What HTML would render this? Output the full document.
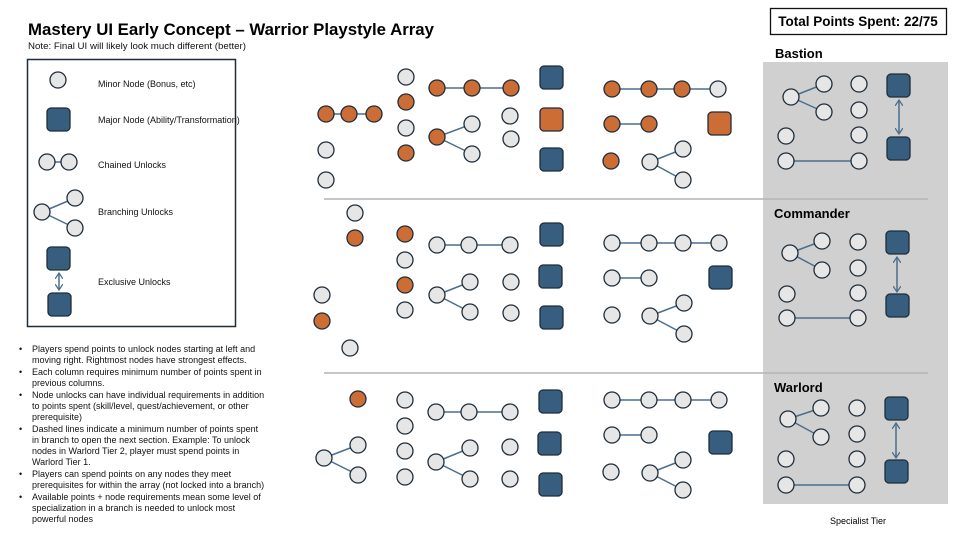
<!DOCTYPE html>
<html><head><meta charset="utf-8"><style>
html,body{margin:0;padding:0;background:#fff;}
svg{display:block;font-family:"Liberation Sans",sans-serif;}
.l{fill:#e6e6e6;stroke:#1f2d3a;stroke-width:1.3}
.o{fill:#cc6d35;stroke:#1f2d3a;stroke-width:1.3}
.b{fill:#375e7e;stroke:#1f2d3a;stroke-width:1.3}
.q{fill:#cc6d35;stroke:#1f2d3a;stroke-width:1.3}
.c{stroke:#4a6e8e;stroke-width:1.5;fill:none}
.t{font-size:9px;fill:#111}
</style></head><body>
<svg width="960" height="540" viewBox="0 0 960 540" xmlns="http://www.w3.org/2000/svg">
<defs>
<marker id="ah" markerWidth="8" markerHeight="8" refX="6" refY="4" orient="auto-start-reverse" markerUnits="userSpaceOnUse">
<path d="M0,0 L6,4 L0,8" fill="none" stroke="#4a6e8e" stroke-width="1.3"/>
</marker>
</defs>
<!-- Title -->
<text x="28" y="35" font-size="17" font-weight="bold" textLength="406" lengthAdjust="spacingAndGlyphs">Mastery UI Early Concept – Warrior Playstyle Array</text>
<text x="28" y="49" class="t" textLength="218" lengthAdjust="spacingAndGlyphs">Note: Final UI will likely look much different (better)</text>
<rect x="770.5" y="8.5" width="176" height="26" fill="#fff" stroke="#111" stroke-width="1.3"/>
<text x="858" y="26" font-size="13.5" font-weight="bold" text-anchor="middle">Total Points Spent: 22/75</text>

<!-- Legend -->
<rect x="27.5" y="59.5" width="208" height="267" fill="#fff" stroke="#1f2d3a" stroke-width="1.5"/>
<circle class="l" cx="58" cy="80" r="8"/>
<text x="98" y="87" class="t">Minor Node (Bonus, etc)</text>
<rect class="b" x="47" y="108" width="23" height="23" rx="4"/>
<text x="98" y="123" class="t">Major Node (Ability/Transformation)</text>
<line class="c" x1="47" y1="162" x2="69" y2="162"/>
<circle class="l" cx="47" cy="162" r="8"/><circle class="l" cx="69" cy="162" r="8"/>
<text x="98" y="168" class="t">Chained Unlocks</text>
<line class="c" x1="42" y1="212" x2="75" y2="198"/><line class="c" x1="42" y1="212" x2="75" y2="228"/>
<circle class="l" cx="42" cy="212" r="8"/><circle class="l" cx="75" cy="198" r="8"/><circle class="l" cx="75" cy="228" r="8"/>
<text x="98" y="215" class="t">Branching Unlocks</text>
<rect class="b" x="47" y="247" width="23" height="23" rx="4"/>
<rect class="b" x="48" y="293" width="23" height="23" rx="4"/>
<line class="c" x1="59" y1="273" x2="59" y2="290" marker-start="url(#ah)" marker-end="url(#ah)"/>
<text x="98" y="285" class="t">Exclusive Unlocks</text>

<!-- Bullets -->
<g class="t">
<text x="19" y="352">•</text><text x="32" y="352">Players spend points to unlock nodes starting at left and</text>
<text x="32" y="363">moving right. Rightmost nodes have strongest effects.</text>
<text x="19" y="375">•</text><text x="32" y="375">Each column requires minimum number of points spent in</text>
<text x="32" y="386">previous columns.</text>
<text x="19" y="398">•</text><text x="32" y="398">Node unlocks can have individual requirements in addition</text>
<text x="32" y="409">to points spent (skill/level, quest/achievement, or other</text>
<text x="32" y="420">prerequisite)</text>
<text x="19" y="432">•</text><text x="32" y="432">Dashed lines indicate a minimum number of points spent</text>
<text x="32" y="443">in branch to open the next section. Example: To unlock</text>
<text x="32" y="454">nodes in Warlord Tier 2, player must spend points in</text>
<text x="32" y="465">Warlord Tier 1.</text>
<text x="19" y="477">•</text><text x="32" y="477">Players can spend points on any nodes they meet</text>
<text x="32" y="488">prerequisites for within the array (not locked into a branch)</text>
<text x="19" y="500">•</text><text x="32" y="500">Available points + node requirements mean some level of</text>
<text x="32" y="511">specialization in a branch is needed to unlock most</text>
<text x="32" y="522">powerful nodes</text>
</g>

<!-- Right panel -->
<rect x="763" y="62" width="185" height="442" fill="#d0d0d0"/>
<line x1="324" y1="199" x2="928" y2="199" stroke="#b4b4b4" stroke-width="1.5"/>
<line x1="324" y1="373" x2="928" y2="373" stroke="#b4b4b4" stroke-width="1.5"/>
<text x="775" y="58" font-size="13" font-weight="bold">Bastion</text>
<text x="774" y="218" font-size="13" font-weight="bold">Commander</text>
<text x="774" y="392" font-size="13" font-weight="bold">Warlord</text>
<text x="858" y="524" font-size="9" text-anchor="middle">Specialist Tier</text>

<!-- Connectors -->
<g class="c">
<line x1="326" y1="114" x2="374" y2="114"/>
<line x1="437" y1="88" x2="511" y2="88"/>
<line x1="437" y1="137" x2="472" y2="124"/><line x1="437" y1="137" x2="472" y2="154"/>
<line x1="612" y1="89" x2="718" y2="89"/>
<line x1="612" y1="124" x2="649" y2="124"/>
<line x1="650" y1="162" x2="683" y2="149"/><line x1="650" y1="162" x2="683" y2="180"/>

<line x1="437" y1="245" x2="510" y2="245"/>
<line x1="437" y1="295" x2="470" y2="282"/><line x1="437" y1="295" x2="470" y2="312"/>
<line x1="612" y1="243" x2="719" y2="243"/>
<line x1="612" y1="278" x2="649" y2="278"/>
<line x1="650" y1="316" x2="684" y2="303"/><line x1="650" y1="316" x2="684" y2="334"/>

<line x1="324" y1="458" x2="358" y2="445"/><line x1="324" y1="458" x2="358" y2="475"/>
<line x1="436" y1="412" x2="510" y2="412"/>
<line x1="436" y1="462" x2="470" y2="448"/><line x1="436" y1="462" x2="470" y2="479"/>
<line x1="612" y1="400" x2="719" y2="400"/>
<line x1="612" y1="435" x2="649" y2="435"/>
<line x1="650" y1="473" x2="683" y2="460"/><line x1="650" y1="473" x2="683" y2="490"/>

<line x1="791" y1="97" x2="824" y2="84"/><line x1="791" y1="97" x2="824" y2="112"/>
<line x1="786" y1="161" x2="859" y2="161"/>
<line x1="790" y1="253" x2="822" y2="241"/><line x1="790" y1="253" x2="822" y2="270"/>
<line x1="787" y1="318" x2="858" y2="318"/>
<line x1="788" y1="419" x2="821" y2="408"/><line x1="788" y1="419" x2="821" y2="437"/>
<line x1="786" y1="485" x2="857" y2="485"/>
<line x1="899" y1="100" x2="899" y2="134" marker-start="url(#ah)" marker-end="url(#ah)"/>
<line x1="897" y1="257" x2="897" y2="292" marker-start="url(#ah)" marker-end="url(#ah)"/>
<line x1="896" y1="423" x2="896" y2="458" marker-start="url(#ah)" marker-end="url(#ah)"/>
</g>

<!-- Top section nodes -->
<circle class="o" cx="326" cy="114" r="8"/><circle class="o" cx="349" cy="114" r="8"/><circle class="o" cx="374" cy="114" r="8"/>
<circle class="l" cx="326" cy="150" r="8"/><circle class="l" cx="326" cy="180" r="8"/>
<circle class="l" cx="406" cy="77" r="8"/><circle class="o" cx="406" cy="102" r="8"/><circle class="l" cx="406" cy="128" r="8"/><circle class="o" cx="406" cy="153" r="8"/>
<circle class="o" cx="437" cy="88" r="8"/><circle class="o" cx="472" cy="88" r="8"/><circle class="o" cx="511" cy="88" r="8"/>
<circle class="o" cx="437" cy="137" r="8"/><circle class="l" cx="472" cy="124" r="8"/><circle class="l" cx="472" cy="154" r="8"/>
<circle class="l" cx="510" cy="116" r="8"/><circle class="l" cx="511" cy="139" r="8"/>
<rect class="b" x="540" y="66" width="23" height="23" rx="4"/>
<rect class="q" x="540" y="108" width="23" height="23" rx="4"/>
<rect class="b" x="540" y="148" width="23" height="23" rx="4"/>
<circle class="o" cx="612" cy="89" r="8"/><circle class="o" cx="649" cy="89" r="8"/><circle class="o" cx="682" cy="89" r="8"/><circle class="l" cx="718" cy="89" r="8"/>
<circle class="o" cx="612" cy="124" r="8"/><circle class="o" cx="649" cy="124" r="8"/>
<rect class="q" x="708" y="112" width="23" height="23" rx="4"/>
<circle class="o" cx="611" cy="161" r="8"/>
<circle class="l" cx="650" cy="162" r="8"/><circle class="l" cx="683" cy="149" r="8"/><circle class="l" cx="683" cy="180" r="8"/>

<!-- Middle section nodes -->
<circle class="l" cx="355" cy="213" r="8"/><circle class="o" cx="355" cy="238" r="8"/>
<circle class="l" cx="322" cy="295" r="8"/><circle class="o" cx="322" cy="321" r="8"/><circle class="l" cx="350" cy="348" r="8"/>
<circle class="o" cx="405" cy="234" r="8"/><circle class="l" cx="405" cy="260" r="8"/><circle class="o" cx="405" cy="285" r="8"/><circle class="l" cx="405" cy="310" r="8"/>
<circle class="l" cx="437" cy="245" r="8"/><circle class="l" cx="469" cy="245" r="8"/><circle class="l" cx="510" cy="245" r="8"/>
<circle class="l" cx="437" cy="295" r="8"/><circle class="l" cx="470" cy="282" r="8"/><circle class="l" cx="470" cy="312" r="8"/>
<circle class="l" cx="511" cy="282" r="8"/><circle class="l" cx="511" cy="313" r="8"/>
<rect class="b" x="540" y="223" width="23" height="23" rx="4"/>
<rect class="b" x="539" y="265" width="23" height="23" rx="4"/>
<rect class="b" x="540" y="306" width="23" height="23" rx="4"/>
<circle class="l" cx="612" cy="243" r="8"/><circle class="l" cx="649" cy="243" r="8"/><circle class="l" cx="683" cy="243" r="8"/><circle class="l" cx="719" cy="243" r="8"/>
<circle class="l" cx="612" cy="278" r="8"/><circle class="l" cx="649" cy="278" r="8"/>
<rect class="b" x="709" y="266" width="23" height="23" rx="4"/>
<circle class="l" cx="612" cy="315" r="8"/>
<circle class="l" cx="650" cy="316" r="8"/><circle class="l" cx="684" cy="303" r="8"/><circle class="l" cx="684" cy="334" r="8"/>

<!-- Bottom section nodes -->
<circle class="o" cx="358" cy="399" r="8"/>
<circle class="l" cx="324" cy="458" r="8"/><circle class="l" cx="358" cy="445" r="8"/><circle class="l" cx="358" cy="475" r="8"/>
<circle class="l" cx="405" cy="400" r="8"/><circle class="l" cx="405" cy="426" r="8"/><circle class="l" cx="405" cy="451" r="8"/><circle class="l" cx="405" cy="477" r="8"/>
<circle class="l" cx="436" cy="412" r="8"/><circle class="l" cx="469" cy="412" r="8"/><circle class="l" cx="510" cy="412" r="8"/>
<circle class="l" cx="436" cy="462" r="8"/><circle class="l" cx="470" cy="448" r="8"/><circle class="l" cx="470" cy="479" r="8"/>
<circle class="l" cx="510" cy="447" r="8"/><circle class="l" cx="510" cy="479" r="8"/>
<rect class="b" x="539" y="390" width="23" height="23" rx="4"/>
<rect class="b" x="538" y="432" width="23" height="23" rx="4"/>
<rect class="b" x="539" y="473" width="23" height="23" rx="4"/>
<circle class="l" cx="612" cy="400" r="8"/><circle class="l" cx="649" cy="400" r="8"/><circle class="l" cx="683" cy="400" r="8"/><circle class="l" cx="719" cy="400" r="8"/>
<circle class="l" cx="612" cy="435" r="8"/><circle class="l" cx="649" cy="435" r="8"/>
<rect class="b" x="709" y="431" width="23" height="23" rx="4"/>
<circle class="l" cx="611" cy="472" r="8"/>
<circle class="l" cx="650" cy="473" r="8"/><circle class="l" cx="683" cy="460" r="8"/><circle class="l" cx="683" cy="490" r="8"/>

<!-- Right panel nodes -->
<circle class="l" cx="791" cy="97" r="8"/><circle class="l" cx="824" cy="84" r="8"/><circle class="l" cx="824" cy="112" r="8"/>
<circle class="l" cx="859" cy="84" r="8"/><circle class="l" cx="859" cy="110" r="8"/><circle class="l" cx="859" cy="135" r="8"/><circle class="l" cx="859" cy="161" r="8"/>
<circle class="l" cx="786" cy="136" r="8"/><circle class="l" cx="786" cy="161" r="8"/>
<rect class="b" x="887" y="74" width="23" height="23" rx="4"/>
<rect class="b" x="887" y="137" width="23" height="23" rx="4"/>

<circle class="l" cx="790" cy="253" r="8"/><circle class="l" cx="822" cy="241" r="8"/><circle class="l" cx="822" cy="270" r="8"/>
<circle class="l" cx="858" cy="242" r="8"/><circle class="l" cx="858" cy="268" r="8"/><circle class="l" cx="858" cy="293" r="8"/><circle class="l" cx="858" cy="318" r="8"/>
<circle class="l" cx="787" cy="294" r="8"/><circle class="l" cx="787" cy="318" r="8"/>
<rect class="b" x="886" y="231" width="23" height="23" rx="4"/>
<rect class="b" x="886" y="294" width="23" height="23" rx="4"/>

<circle class="l" cx="788" cy="419" r="8"/><circle class="l" cx="821" cy="408" r="8"/><circle class="l" cx="821" cy="437" r="8"/>
<circle class="l" cx="857" cy="408" r="8"/><circle class="l" cx="857" cy="434" r="8"/><circle class="l" cx="857" cy="459" r="8"/><circle class="l" cx="857" cy="485" r="8"/>
<circle class="l" cx="786" cy="459" r="8"/><circle class="l" cx="786" cy="485" r="8"/>
<rect class="b" x="885" y="397" width="23" height="23" rx="4"/>
<rect class="b" x="885" y="460" width="23" height="23" rx="4"/>
</svg>
</body></html>
